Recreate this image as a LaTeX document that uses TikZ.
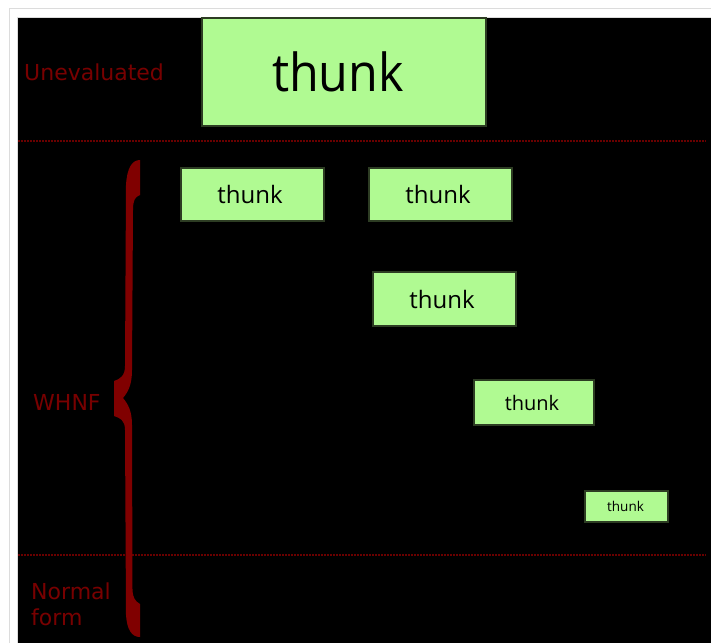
\documentclass[tikz,border=0pt]{standalone}
\usepackage{fontspec}
\setmainfont{DejaVu Sans}
\newfontfamily\boxfont{Open Sans}
\usepackage{graphicx}
\definecolor{panelframe}{RGB}{220,220,220}
\definecolor{thunkfill}{RGB}{176,250,146}
\definecolor{thunkedge}{RGB}{45,60,35}
\definecolor{labelred}{RGB}{120,0,0}
\definecolor{bracered}{RGB}{128,0,0}
\definecolor{seprule}{RGB}{105,0,0}
\tikzset{
  thunkbox/.style={draw=thunkedge, line width=1.2pt, fill=thunkfill,
    inner sep=0pt, text=black, font=\boxfont},
  lbl/.style={inner sep=0pt, text=labelred, font=\fontsize{22}{26}\selectfont},
  seprow/.style={draw=seprule, line width=1.1pt, dash pattern=on 2pt off 1pt},
}
% label text nudged a little left of the box centre
\newcommand{\thunktext}[2]{\fontsize{#1}{#1}\selectfont thunk\hspace*{#2}}
\begin{document}
\begin{tikzpicture}[x=1pt,y=-1pt]
  % page and panel
  \fill[white] (0,0) rectangle (711,643);
  \useasboundingbox (0,0) rectangle (711,643);
  \draw[panelframe, line width=1pt] (9,643) -- (9,8.5) -- (711,8.5);
  \draw[panelframe, line width=1pt] (17,643) -- (17,17) -- (711,17);
  \fill[black] (17.5,17.5) rectangle (711,643);

  % level separators
  \draw[seprow] (18,141) -- (706,141);
  \draw[seprow] (18,555) -- (706,555);

  % level labels
  \node[lbl, anchor=base west] (uneval) at (24,80) {Unevaluated};
  \node[lbl, anchor=base west] (whnf) at (33,410) {WHNF};
  \node[lbl, anchor=north west, align=left] (normal) at (31,582.5) {Normal\\form};

  % brace spanning WHNF and normal form
  \fill[bracered] (140,160) -- (140,195)
    .. controls (135,197) and (133,200) .. (133,210)
    -- (132,370)
    .. controls (132,385) and (128,392) .. (123,398)
    .. controls (128,404) and (132,411) .. (132,425)
    -- (132.5,590)
    .. controls (133,598) and (135,601) .. (140,604)
    -- (140,637)
    .. controls (132,637) and (127,630) .. (126,615)
    -- (125,430)
    .. controls (125,420) and (120,418) .. (114,416)
    -- (114,381)
    .. controls (120,379) and (125,376) .. (125,366)
    -- (126,185)
    .. controls (127,168) and (132,160) .. (140,160) -- cycle;

  % thunks
  \node[thunkbox, minimum width=284pt, minimum height=108pt] (t0) at (344,72)
    {\fontsize{48.5}{48.5}\selectfont\scalebox{1}[1.08]{thunk}\hspace*{12pt}};
  \node[thunkbox, minimum width=143pt, minimum height=53pt] (t1) at (252.5,194.5)
    {\thunktext{24}{5pt}};
  \node[thunkbox, minimum width=143pt, minimum height=53pt] (t2) at (440.5,194.5)
    {\thunktext{24}{5pt}};
  \node[thunkbox, minimum width=143pt, minimum height=54pt] (t3) at (444.5,299)
    {\thunktext{24}{5pt}};
  \node[thunkbox, minimum width=120pt, minimum height=45pt] (t4) at (534,402.5)
    {\thunktext{20}{4pt}};
  \node[thunkbox, minimum width=83pt, minimum height=31pt] (t5) at (626.5,506.5)
    {\thunktext{13.5}{2pt}};
\end{tikzpicture}
\end{document}
